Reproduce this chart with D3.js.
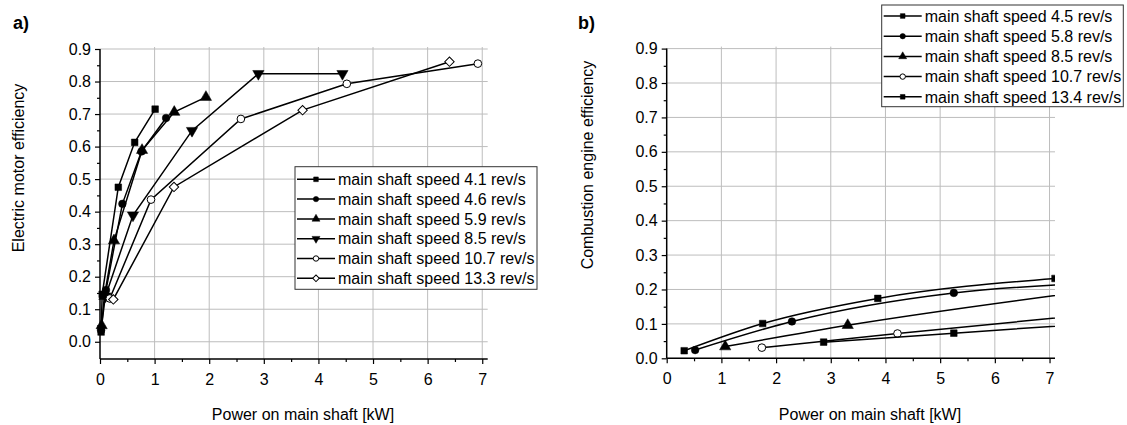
<!DOCTYPE html>
<html>
<head>
<meta charset="utf-8">
<script src="https://cdn.jsdelivr.net/npm/d3@7"></script>
<style>
body { margin: 0; background: #fff; }
svg { font-family: Arial, "Liberation Sans", sans-serif; }
</style>
</head>
<body>
<svg id="chart" width="1127" height="425"></svg>
<script>
// panel a) electric motor efficiency
var motorSpeeds = ["4.1", "4.6", "5.9", "8.5", "10.7", "13.3"];
var motorMarkers = ["square", "circle", "triangle", "triangleDown", "circleOpen", "diamondOpen"];
var motorPower = [
    [0.02, 0.04, 0.335, 0.635, 1.01],
    [0.02, 0.11, 0.41, 0.76, 1.21],
    [0.03, 0.08, 0.256, 0.77, 1.36, 1.94],
    [0.10, 0.604, 1.685, 2.90, 4.44],
    [0.18, 0.934, 2.58, 4.52, 6.92],
    [0.244, 1.355, 3.71, 6.40]
];
var motorEff = [
    [0.03, 0.146, 0.475, 0.613, 0.715],
    [0.035, 0.159, 0.424, 0.585, 0.688],
    [0.05, 0.14, 0.311, 0.589, 0.706, 0.752],
    [0.14, 0.389, 0.649, 0.824, 0.824],
    [0.133, 0.437, 0.685, 0.793, 0.855],
    [0.13, 0.476, 0.712, 0.861]
];

// panel b) combustion engine efficiency
var engineSpeeds = ["4.5", "5.8", "8.5", "10.7", "13.4"];
var engineMarkers = ["square", "circle", "triangle", "circleOpen", "square"];
var enginePower = [
    [0.32, 1.755, 3.86, 7.10],
    [0.52, 2.29, 5.25, 7.60],
    [1.07, 3.31, 7.60],
    [1.74, 4.22, 7.60],
    [2.87, 5.25, 7.60]
];
var engineEff = [
    [0.022, 0.101, 0.174, 0.232],
    [0.024, 0.107, 0.190, 0.217],
    [0.034, 0.096, 0.193],
    [0.031, 0.072, 0.125],
    [0.047, 0.073, 0.099]
];

var xTicks = [0, 1, 2, 3, 4, 5, 6, 7];
var xMinor = [0.5, 1.5, 2.5, 3.5, 4.5, 5.5, 6.5];
var yTicks = [0, 0.1, 0.2, 0.3, 0.4, 0.5, 0.6, 0.7, 0.8, 0.9];
var yMinor = [0.05, 0.15, 0.25, 0.35, 0.45, 0.55, 0.65, 0.75, 0.85];

var svg = d3.select("#chart");

function drawMarker(g, type, x, y, size) {
    var sym = d3.symbolSquare, rot = 0, open = false;
    if (type == "circle" || type == "circleOpen") sym = d3.symbolCircle;
    if (type == "triangle") sym = d3.symbolTriangle;
    if (type == "triangleDown") { sym = d3.symbolTriangle; rot = 180; }
    if (type == "diamondOpen") { rot = 45; }
    if (type == "circleOpen" || type == "diamondOpen") open = true;
    var s = size;
    if (sym == d3.symbolTriangle) s = size * 1.25;
    if (sym == d3.symbolCircle) s = size * 1.05;
    g.append("path")
        .attr("d", d3.symbol().type(sym).size(s)())
        .attr("transform", "translate(" + x + "," + y + ") rotate(" + rot + ")")
        .attr("fill", open ? "#fff" : "#000")
        .attr("stroke", "#000")
        .attr("stroke-width", open ? 1 : 0.5);
}

function drawPanel(p) {
    var g = svg.append("g");
    var xScale = d3.scaleLinear().domain([0, 7.1]).range([p.left, p.right]);
    var yScale = d3.scaleLinear().domain([p.yMin, 0.9]).range([p.bottom, p.top]);

    // grid
    g.selectAll(".vgrid").data(xTicks.filter(function(d) { return d > 0; }))
        .enter().append("line")
        .attr("x1", function(d) { return xScale(d); })
        .attr("x2", function(d) { return xScale(d); })
        .attr("y1", p.top - 2).attr("y2", p.bottom)
        .attr("stroke", "#bdbdbd").attr("stroke-width", 1);
    g.selectAll(".hgrid").data(yTicks)
        .enter().append("line")
        .attr("x1", p.left).attr("x2", p.right)
        .attr("y1", function(d) { return yScale(d); })
        .attr("y2", function(d) { return yScale(d); })
        .attr("stroke", "#bdbdbd").attr("stroke-width", 1);

    // axes
    var xAxis = d3.axisBottom(xScale).tickValues(xTicks).tickSize(5).tickPadding(6)
        .tickFormat(d3.format("d"));
    var gx = g.append("g").attr("transform", "translate(0," + p.bottom + ")").call(xAxis);
    gx.select(".domain").attr("d", "M" + p.left + ",0H" + p.right);
    var gxm = g.append("g").attr("transform", "translate(0," + p.bottom + ")")
        .call(d3.axisBottom(xScale).tickValues(xMinor).tickSize(3).tickFormat(""));
    gxm.select(".domain").remove();

    var yAxis = d3.axisLeft(yScale).tickValues(yTicks).tickSize(5).tickPadding(4)
        .tickFormat(d3.format(".1f"));
    var gy = g.append("g").attr("transform", "translate(" + p.left + ",0)").call(yAxis);
    gy.select(".domain").attr("d", "M0," + p.top + "V" + p.bottom);
    var gym = g.append("g").attr("transform", "translate(" + p.left + ",0)")
        .call(d3.axisLeft(yScale).tickValues(yMinor).tickSize(3).tickFormat(""));
    gym.select(".domain").remove();

    [gx, gxm, gy, gym].forEach(function(a) {
        a.selectAll("line").attr("stroke", "#000").attr("stroke-width", 1.2);
        a.selectAll("path").attr("stroke", "#000").attr("stroke-width", 1.5);
        a.selectAll("text").attr("font-size", 16).attr("fill", "#000")
            .attr("font-family", "Arial, 'Liberation Sans', sans-serif");
    });
    gx.selectAll("text").attr("dy", "0.95em");

    // axis titles
    g.append("text").attr("x", p.xTitleX).attr("y", 419.5)
        .attr("text-anchor", "middle").attr("font-size", 16)
        .text("Power on main shaft [kW]");
    g.append("text")
        .attr("transform", "translate(" + p.yTitleX + "," + p.yTitleY + ") rotate(-90)")
        .attr("text-anchor", "middle").attr("font-size", 16)
        .text(p.yTitle);
    g.append("text").attr("x", p.labelX).attr("y", 29)
        .attr("font-size", 18).attr("font-weight", "bold")
        .text(p.label);

    // clip
    var clipId = "clip" + p.label.charAt(0);
    svg.append("clipPath").attr("id", clipId).append("rect")
        .attr("x", p.left - 10).attr("y", p.top - 10)
        .attr("width", p.right - p.left + 10).attr("height", p.bottom - p.top + 20);
    var plot = g.append("g").attr("clip-path", "url(#" + clipId + ")");

    var line = d3.line()
        .x(function(d) { return xScale(d[0]); })
        .y(function(d) { return yScale(d[1]); })
        .curve(p.curve);

    p.power.forEach(function(xs, i) {
        var pts = xs.map(function(x, j) { return [x, p.eff[i][j]]; });
        plot.append("path").datum(pts)
            .attr("d", line)
            .attr("fill", "none").attr("stroke", "#000").attr("stroke-width", 1.5);
        pts.forEach(function(d) {
            drawMarker(plot, p.markers[i], xScale(d[0]), yScale(d[1]), 44);
        });
    });

    // legend
    var n = p.speeds.length;
    var lg = g.append("g");
    lg.append("rect")
        .attr("x", p.legX).attr("y", p.legY)
        .attr("width", p.legW).attr("height", p.legH)
        .attr("fill", "#fff").attr("stroke", "#333").attr("stroke-width", 1);
    p.speeds.forEach(function(s, i) {
        var ry = p.legY + p.legPad + i * p.legRow;
        lg.append("line")
            .attr("x1", p.legX + 2).attr("x2", p.legX + 40)
            .attr("y1", ry).attr("y2", ry)
            .attr("stroke", "#000").attr("stroke-width", 1.5);
        drawMarker(lg, p.markers[i], p.legX + 21, ry, 22);
        lg.append("text")
            .attr("x", p.legX + 43).attr("y", ry).attr("dy", "0.36em")
            .attr("font-size", 16)
            .text("main shaft speed " + s + " rev/s");
    });
}

drawPanel({
    label: "a)", labelX: 13,
    left: 100, right: 487.7, top: 49, bottom: 359, yMin: -0.053,
    power: motorPower, eff: motorEff, markers: motorMarkers, speeds: motorSpeeds,
    curve: d3.curveLinear,
    yTitle: "Electric motor efficiency", yTitleX: 23.5, yTitleY: 168,
    xTitleX: 303,
    legX: 295, legY: 166.7, legW: 242, legH: 122.6, legPad: 12.6, legRow: 19.8
});

drawPanel({
    label: "b)", labelX: 578,
    left: 666.7, right: 1055, top: 48.6, bottom: 358.3, yMin: 0,
    power: enginePower, eff: engineEff, markers: engineMarkers, speeds: engineSpeeds,
    curve: d3.curveMonotoneX,
    yTitle: "Combustion engine efficiency", yTitleX: 593, yTitleY: 165,
    xTitleX: 870,
    legX: 881.7, legY: 5, legW: 241.6, legH: 101.7, legPad: 11, legRow: 20.2
});
</script>
</body>
</html>
